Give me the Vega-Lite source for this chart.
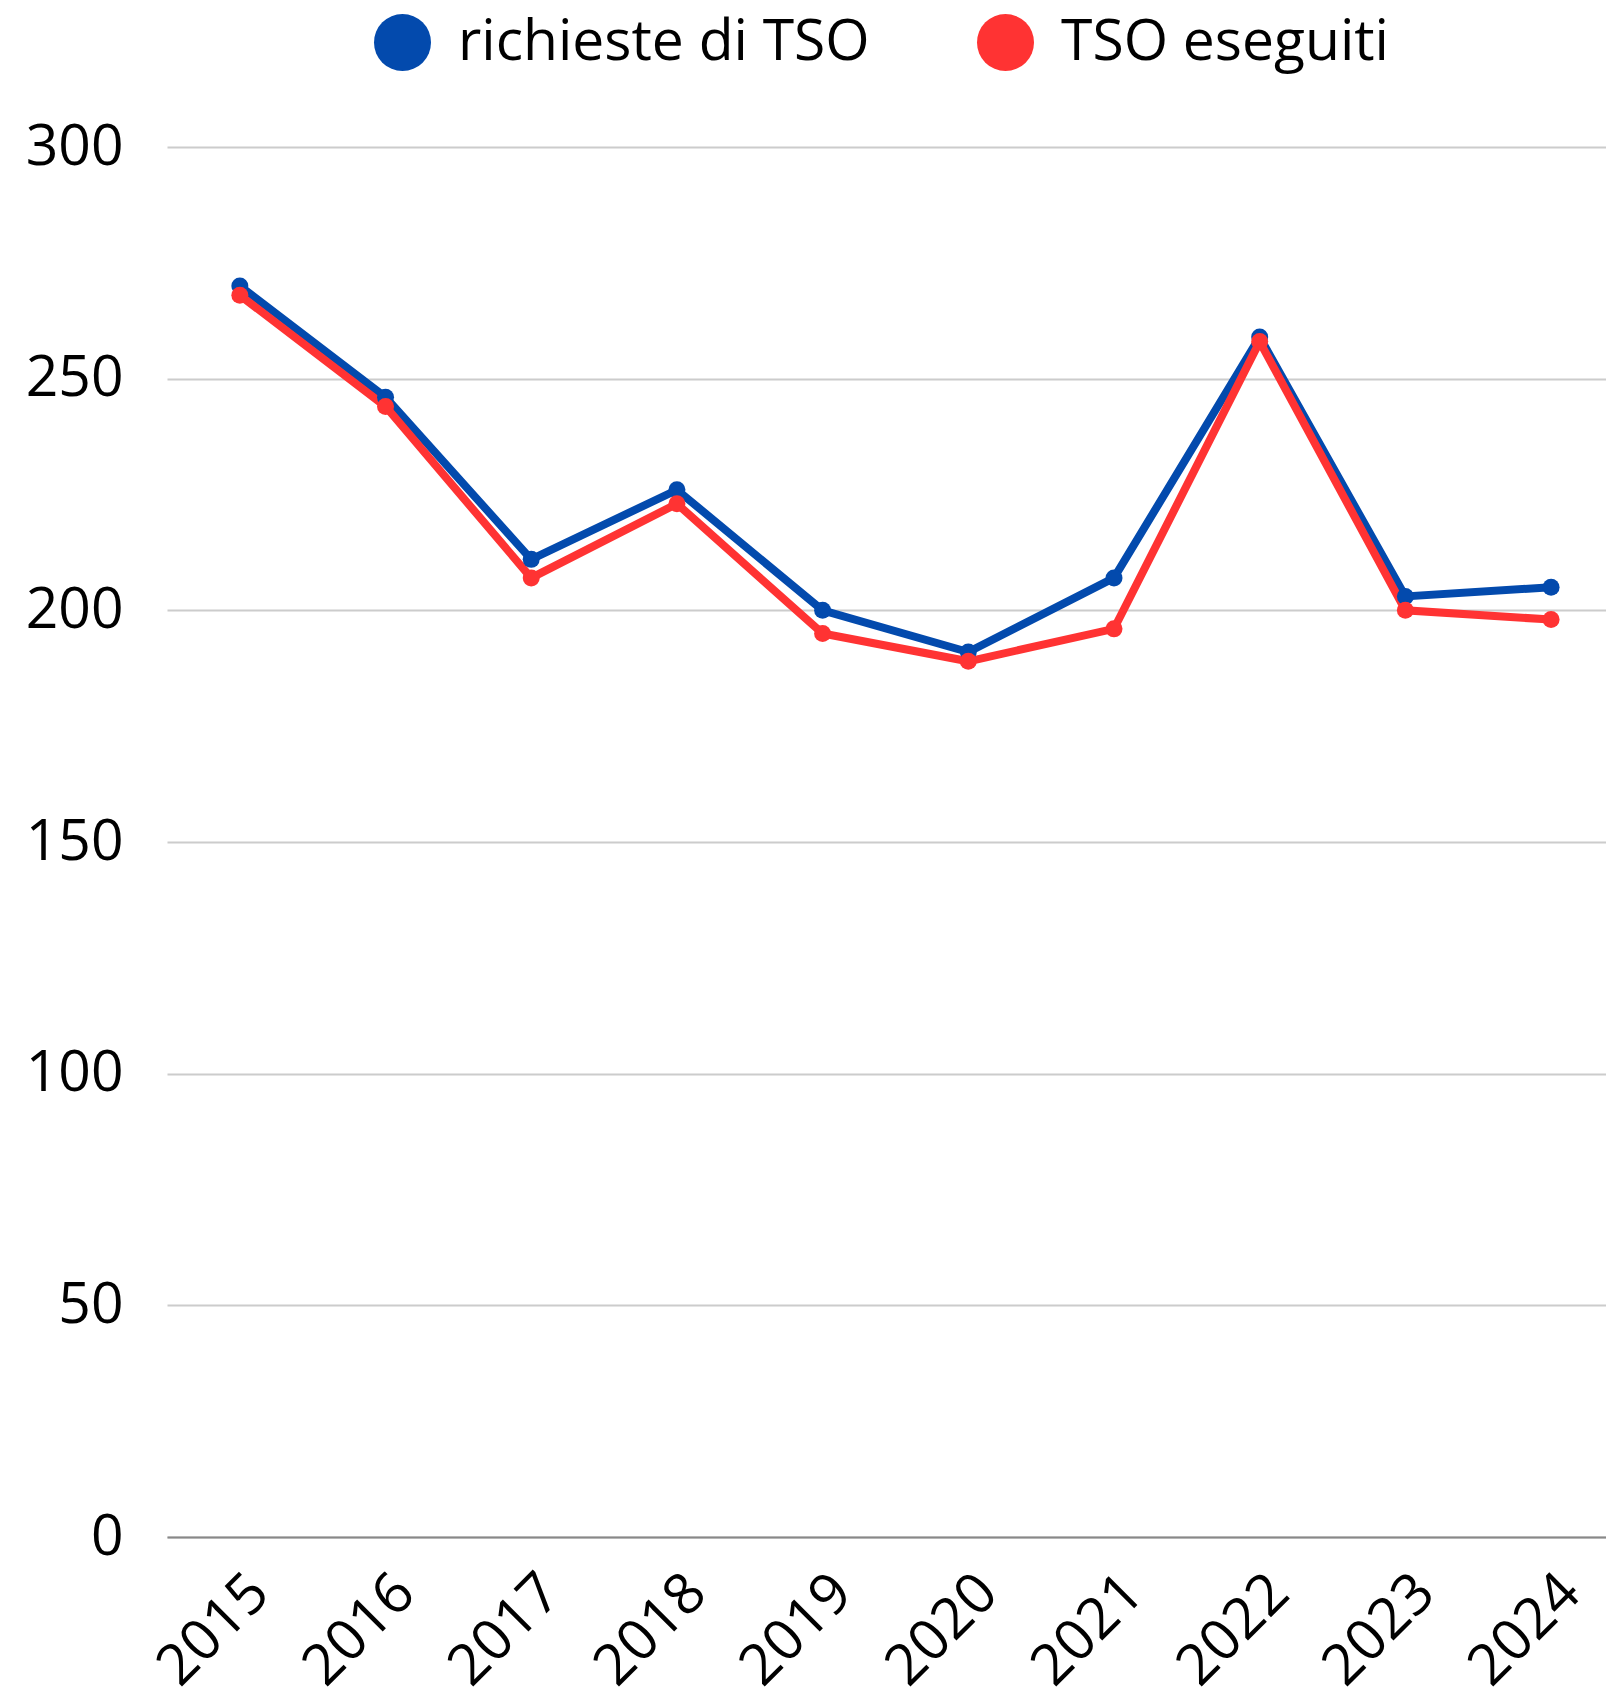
{
  "$schema": "https://vega.github.io/schema/vega-lite/v6.json",
  "autosize": {"type": "none"},
  "padding": {"left": 167, "top": 147, "right": 0, "bottom": 157},
  "width": 1439,
  "height": 1390,
  "config": {
    "font": "Open Sans",
    "view": {"stroke": null},
    "axis": {"labelFont": "Open Sans", "labelColor": "#000000"},
    "legend": {"labelFont": "Open Sans"}
  },
  "data": {
    "values": [
      {"year": 2015, "series": "richieste di TSO", "value": 270},
      {"year": 2016, "series": "richieste di TSO", "value": 246},
      {"year": 2017, "series": "richieste di TSO", "value": 211},
      {"year": 2018, "series": "richieste di TSO", "value": 226},
      {"year": 2019, "series": "richieste di TSO", "value": 200},
      {"year": 2020, "series": "richieste di TSO", "value": 191},
      {"year": 2021, "series": "richieste di TSO", "value": 207},
      {"year": 2022, "series": "richieste di TSO", "value": 259},
      {"year": 2023, "series": "richieste di TSO", "value": 203},
      {"year": 2024, "series": "richieste di TSO", "value": 205},
      {"year": 2015, "series": "TSO eseguiti", "value": 268},
      {"year": 2016, "series": "TSO eseguiti", "value": 244},
      {"year": 2017, "series": "TSO eseguiti", "value": 207},
      {"year": 2018, "series": "TSO eseguiti", "value": 223},
      {"year": 2019, "series": "TSO eseguiti", "value": 195},
      {"year": 2020, "series": "TSO eseguiti", "value": 189},
      {"year": 2021, "series": "TSO eseguiti", "value": 196},
      {"year": 2022, "series": "TSO eseguiti", "value": 258},
      {"year": 2023, "series": "TSO eseguiti", "value": 200},
      {"year": 2024, "series": "TSO eseguiti", "value": 198}
    ]
  },
  "encoding": {
    "x": {
      "field": "year",
      "type": "quantitative",
      "scale": {"domain": [2014.5, 2024.377], "nice": false, "zero": false},
      "axis": {
        "title": null,
        "values": [2015, 2016, 2017, 2018, 2019, 2020, 2021, 2022, 2023, 2024],
        "format": "d",
        "labelAngle": -45,
        "labelFontSize": 57,
        "labelPadding": 27,
        "grid": false,
        "ticks": false,
        "domain": true,
        "domainColor": "#888888",
        "domainWidth": 2,
        "labelFlush": false,
        "labelOverlap": false
      }
    },
    "y": {
      "field": "value",
      "type": "quantitative",
      "scale": {"domain": [0, 300], "nice": false},
      "axis": {
        "title": null,
        "values": [0, 50, 100, 150, 200, 250, 300],
        "labelFontSize": 57,
        "labelPadding": 44,
        "grid": true,
        "gridColor": "#cccccc",
        "gridWidth": 2,
        "ticks": false,
        "domain": false,
        "labelFlush": false,
        "labelOverlap": false
      }
    },
    "color": {
      "field": "series",
      "type": "nominal",
      "scale": {"domain": ["richieste di TSO", "TSO eseguiti"], "range": ["#034aad", "#ff3333"]},
      "legend": {
        "title": null,
        "orient": "none",
        "legendX": 207,
        "legendY": -133,
        "direction": "horizontal",
        "symbolType": "circle",
        "symbolSize": 3249,
        "symbolStrokeWidth": 0,
        "labelFontSize": 57,
        "labelOffset": 27,
        "columnPadding": 107,
        "padding": 0,
        "labelLimit": 0
      }
    }
  },
  "layer": [
    {"mark": {"type": "line", "strokeWidth": 8}},
    {"mark": {"type": "point", "filled": true, "size": 289, "opacity": 1}}
  ]
}
